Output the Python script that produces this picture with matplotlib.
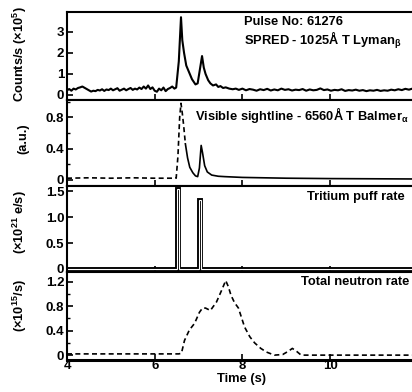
import numpy as np
import matplotlib
matplotlib.use("Agg")
import matplotlib.pyplot as plt
from matplotlib.ticker import MultipleLocator

plt.rcParams['font.family'] = ['Liberation Sans', 'DejaVu Sans']
plt.rcParams['mathtext.fontset'] = 'custom'
plt.rcParams['mathtext.rm'] = 'Liberation Sans'
plt.rcParams['mathtext.bf'] = 'Liberation Sans:bold'
plt.rcParams['mathtext.default'] = 'bf'

# ---------------- data ----------------
# SPRED Lyman-beta (x10^5 counts/s)
spred_pre_t = np.linspace(4.0, 6.45, 50)
spred_pre_v = [0.22, 0.28, 0.20, 0.30, 0.26, 0.33, 0.36, 0.40, 0.34, 0.28,
               0.22, 0.16, 0.20, 0.18, 0.24, 0.21, 0.27, 0.19, 0.26, 0.23,
               0.30, 0.22, 0.27, 0.32, 0.20, 0.25, 0.30, 0.22, 0.28, 0.33,
               0.24, 0.30, 0.26, 0.35, 0.28, 0.40, 0.30, 0.45, 0.28, 0.36,
               0.20, 0.15, 0.30, 0.22, 0.35, 0.18, 0.28, 0.33, 0.40, 0.30]
spred_mid_t = [6.49, 6.55, 6.60, 6.63, 6.67, 6.72, 6.79, 6.85, 6.93, 6.98,
               7.03, 7.08, 7.12, 7.16, 7.22, 7.27, 7.33, 7.40, 7.45, 7.50,
               7.56, 7.62, 7.70, 7.78, 7.85]
spred_mid_v = [0.35, 1.60, 3.70, 2.60, 2.00, 1.40, 1.05, 0.75, 0.50, 0.55,
               1.20, 1.85, 1.30, 1.00, 0.70, 0.55, 0.45, 0.50, 0.38, 0.42,
               0.33, 0.36, 0.30, 0.27, 0.30]
spred_tail_t = np.linspace(7.92, 11.96, 51)
spred_tail_v = [0.24, 0.30, 0.22, 0.28, 0.25, 0.20, 0.27, 0.23, 0.29, 0.21,
                0.26, 0.22, 0.30, 0.24, 0.27, 0.21, 0.25, 0.23, 0.28, 0.20,
                0.26, 0.22, 0.24, 0.31, 0.23, 0.26, 0.20, 0.24, 0.22, 0.27,
                0.19, 0.23, 0.21, 0.25, 0.20, 0.23, 0.18, 0.22, 0.20, 0.24,
                0.19, 0.22, 0.20, 0.25, 0.22, 0.27, 0.23, 0.29, 0.25, 0.30, 0.27]

# Visible Balmer-alpha (a.u.)
balmer_a_t = [4.0, 4.5, 5.0, 5.5, 6.0, 6.3, 6.49, 6.53, 6.57, 6.60, 6.63, 6.66, 6.70]
balmer_a_v = [0.02, 0.025, 0.02, 0.025, 0.02, 0.02, 0.02, 0.30, 0.80, 0.98, 0.85, 0.70, 0.46]
balmer_b_t = [6.70, 6.75, 6.80, 6.87, 6.93, 6.98, 7.02, 7.06, 7.09, 7.14, 7.20,
              7.30, 7.45, 7.60, 8.0, 9.0, 10.0, 11.96]
balmer_b_v = [0.46, 0.28, 0.16, 0.09, 0.05, 0.04, 0.15, 0.44, 0.35, 0.18, 0.10,
              0.06, 0.045, 0.04, 0.03, 0.02, 0.015, 0.01]

# Tritium puff rate (x10^21 e/s)
puff_t = [4.0, 6.50, 6.50, 6.55, 6.55, 7.02, 7.02, 7.06, 7.06, 11.96]
puff_v = [0.0, 0.0, 1.55, 1.55, 0.0, 0.0, 1.33, 1.33, 0.0, 0.0]

# Total neutron rate (x10^15 /s)
neut_t = [4.0, 6.55, 6.61, 6.68, 6.79, 6.91, 7.02, 7.09, 7.16, 7.27, 7.41, 7.52,
          7.62, 7.68, 7.74, 7.82, 7.91, 8.05, 8.17, 8.28, 8.42, 8.55, 8.73,
          8.92, 9.04, 9.14, 9.24, 9.34, 11.96]
neut_v = [0.02, 0.02, 0.03, 0.24, 0.41, 0.52, 0.70, 0.77, 0.77, 0.73, 0.87, 1.05,
          1.22, 1.12, 0.98, 0.86, 0.77, 0.46, 0.30, 0.20, 0.11, 0.05, 0.00,
          0.01, 0.06, 0.11, 0.06, 0.00, 0.00]

xticks = [4, 6, 8, 10]

# ---------------- figure ----------------
fig = plt.figure(figsize=(4.12, 3.92), dpi=100)
left, width = 67/412, (416-67)/412
pos = [(0.745, 0.2245), (0.5255, 0.219), (0.306, 0.219), (0.0816, 0.2245)]
axes = [fig.add_axes([left, b, width, h]) for b, h in pos]
XMIN, XMAX = 4.0, 11.96
fs = 9.3
tfs = 9.5
ylx = -0.108

for ax in axes:
    ax.set_xlim(XMIN, XMAX)
    ax.set_xticks(xticks)
    ax.tick_params(direction='in', length=4, width=1.2, labelsize=tfs, pad=2,
                   top=False, right=False)
    ax.tick_params(which='minor', direction='in', length=2, width=1.0)
    for s in ax.spines.values():
        s.set_linewidth(1.5)
    ax.spines['right'].set_visible(False)
    if ax is not axes[-1]:
        ax.tick_params(labelbottom=False)

# Panel 1
ax = axes[0]
ax.plot(list(spred_pre_t) + spred_mid_t + list(spred_tail_t),
        spred_pre_v + spred_mid_v + spred_tail_v, color='black', lw=1.5)
ax.set_ylim(-0.24, 3.95)
ax.set_yticks([0, 1, 2, 3])
ax.set_yticklabels(['0', '1', '2', '3'], fontweight='bold', fontsize=tfs)
ax.text(0.507, 0.886, 'Pulse No: 61276', transform=ax.transAxes, fontsize=fs,
        fontweight='bold', va='center', ha='left')
ax.text(0.507, 0.68, r'SPRED - 1025Å T Lyman$_\beta$', transform=ax.transAxes,
        fontsize=fs, fontweight='bold', va='center', ha='left')
ax.set_ylabel(r'Counts/s (×10$^5$)', fontsize=fs, fontweight='bold')
ax.yaxis.set_label_coords(ylx, 0.52)

# Panel 2
ax = axes[1]
ax.plot(balmer_a_t, balmer_a_v, color='black', lw=1.2, ls=(0, (3, 2)))
ax.plot(balmer_b_t, balmer_b_v, color='black', lw=1.2)
ax.set_ylim(-0.08, 1.02)
ax.set_yticks([0, 0.4, 0.8])
ax.set_yticklabels(['0', '0.4', '0.8'], fontweight='bold', fontsize=tfs)
ax.yaxis.set_minor_locator(MultipleLocator(0.2))
ax.text(0.367, 0.83, r'Visible sightline - 6560Å T Balmer$_\alpha$',
        transform=ax.transAxes, fontsize=fs, fontweight='bold', va='center', ha='left')
ax.set_ylabel('(a.u.)', fontsize=fs, fontweight='bold')
ax.yaxis.set_label_coords(ylx, 0.55)

# Panel 3
ax = axes[2]
ax.plot(puff_t, puff_v, color='black', lw=2.8, solid_joinstyle='miter')
ax.plot(puff_t, puff_v, color='white', lw=0.8, solid_joinstyle='miter')
ax.set_ylim(-0.06, 1.6)
ax.set_yticks([0, 0.5, 1.0, 1.5])
ax.set_yticklabels(['0', '0.5', '1.0', '1.5'], fontweight='bold', fontsize=tfs)
ax.text(0.968, 0.87, 'Tritium puff rate', transform=ax.transAxes, fontsize=fs,
        fontweight='bold', va='center', ha='right')
ax.set_ylabel(r'(×10$^{21}$ e/s)', fontsize=fs, fontweight='bold')
ax.yaxis.set_label_coords(ylx, 0.58)

# Panel 4
ax = axes[3]
ax.plot(neut_t, neut_v, color='black', lw=1.2, ls=(0, (3, 2)))
ax.set_ylim(-0.08, 1.36)
ax.set_yticks([0, 0.4, 0.8, 1.2])
ax.set_yticklabels(['0', '0.4', '0.8', '1.2'], fontweight='bold', fontsize=tfs)
ax.yaxis.set_minor_locator(MultipleLocator(0.2))
ax.set_xticklabels([str(t) for t in xticks], fontweight='bold', fontsize=tfs)
ax.tick_params(axis='x', pad=0)
ax.spines['bottom'].set_linewidth(2.2)
ax.text(0.98, 0.886, 'Total neutron rate', transform=ax.transAxes, fontsize=fs,
        fontweight='bold', va='center', ha='right')
ax.set_ylabel(r'(×10$^{15}$/s)', fontsize=fs, fontweight='bold')
ax.yaxis.set_label_coords(ylx, 0.625)
ax.set_xlabel('Time (s)', fontsize=fs, fontweight='bold', labelpad=1)

fig.savefig('out.png', dpi=100)
